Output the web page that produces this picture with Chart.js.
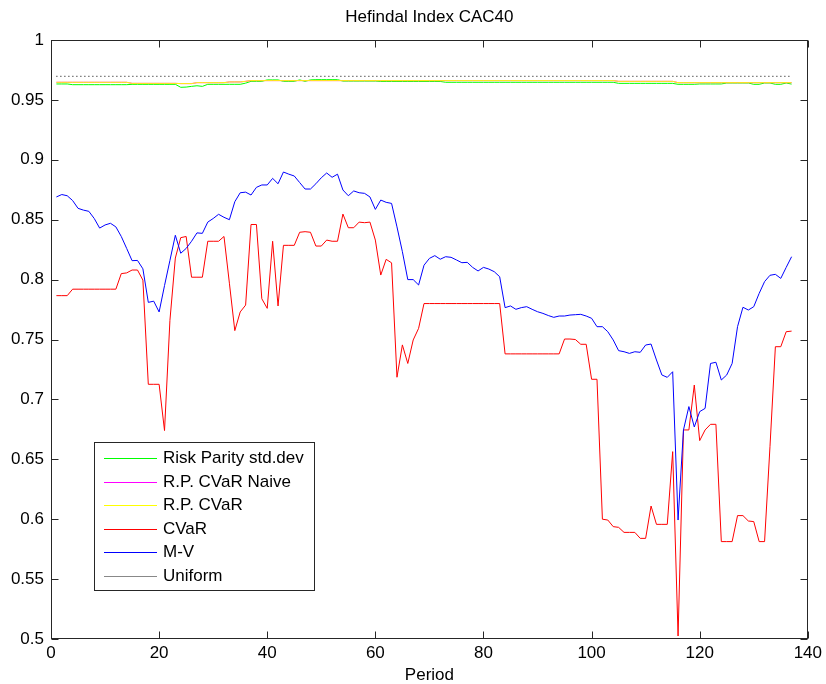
<!DOCTYPE html>
<html>
<head>
<meta charset="utf-8">
<script src="https://cdn.jsdelivr.net/npm/chart.js@4/dist/chart.umd.min.js"></script>
<style>
  html, body { margin: 0; padding: 0; background: #ffffff; }
  #wrap { width: 826px; height: 684px; }
</style>
</head>
<body>
<div id="wrap"><canvas id="chart" width="826" height="684"></canvas></div>
<script>
// Herfindahl concentration of portfolio weights, CAC40, per rebalancing period
const periods = Array.from({ length: 137 }, (_, i) => i + 1);

const riskParityStd = [
  0.9633, 0.9633, 0.9633,
  0.9627, 0.9627, 0.9627, 0.9627, 0.9627, 0.9627, 0.9627, 0.9627, 0.9627, 0.9627, 0.9627,
  0.9630, 0.9630, 0.9630, 0.9630, 0.9630, 0.9630, 0.9630, 0.9630, 0.9630,
  0.9605, 0.9607, 0.9613, 0.9618, 0.9613,
  0.9630, 0.9630, 0.9630, 0.9630, 0.9630, 0.9630, 0.9630,
  0.9640, 0.9655, 0.9655, 0.9655, 0.9667, 0.9667, 0.9667, 0.9655, 0.9655, 0.9655,
  0.9667, 0.9655, 0.9667, 0.9669, 0.9669, 0.9669, 0.9669, 0.9669,
  0.9657, 0.9657, 0.9657, 0.9657, 0.9657, 0.9657, 0.9657,
  0.9654, 0.9654, 0.9654, 0.9654, 0.9654, 0.9654, 0.9654, 0.9654, 0.9654, 0.9654, 0.9654, 0.9654,
  0.9647, 0.9647, 0.9647, 0.9647, 0.9647, 0.9647, 0.9647, 0.9647, 0.9647, 0.9647, 0.9647, 0.9647,
  0.9647, 0.9647, 0.9647, 0.9647, 0.9647, 0.9647, 0.9647, 0.9647, 0.9647, 0.9647, 0.9647, 0.9647,
  0.9647, 0.9647, 0.9647, 0.9647, 0.9647, 0.9647, 0.9647, 0.9647,
  0.9638, 0.9638, 0.9638, 0.9638, 0.9638, 0.9638, 0.9638, 0.9638, 0.9638, 0.9638, 0.9638,
  0.9630, 0.9630, 0.9630, 0.9630,
  0.9633, 0.9633, 0.9633, 0.9633, 0.9633,
  0.9641, 0.9641, 0.9641, 0.9641, 0.9641,
  0.9630, 0.9630, 0.9641, 0.9641, 0.9630, 0.9630, 0.9641, 0.9632
];

const rpCvarNaive = [
  0.9647, 0.9647, 0.9647, 0.9647, 0.9647, 0.9647, 0.9647, 0.9647, 0.9647, 0.9647, 0.9647, 0.9647, 0.9647, 0.9647,
  0.9638, 0.9638, 0.9638, 0.9638, 0.9638, 0.9638, 0.9638, 0.9638, 0.9638,
  0.9636, 0.9636, 0.9636,
  0.9644, 0.9644, 0.9644, 0.9644, 0.9644, 0.9644,
  0.9650, 0.9650, 0.9650, 0.9655,
  0.9661, 0.9661, 0.9661, 0.9661, 0.9661, 0.9661, 0.9661, 0.9661, 0.9661, 0.9661, 0.9661, 0.9661,
  0.9661, 0.9661, 0.9661, 0.9661, 0.9661, 0.9661, 0.9661, 0.9661, 0.9661, 0.9661, 0.9661, 0.9661,
  0.9661, 0.9661, 0.9661, 0.9661, 0.9661, 0.9661, 0.9661, 0.9661, 0.9661, 0.9661, 0.9661, 0.9661,
  0.9661, 0.9661, 0.9661, 0.9661, 0.9661, 0.9661, 0.9661, 0.9661, 0.9661, 0.9661, 0.9661, 0.9661,
  0.9661, 0.9661, 0.9661, 0.9661, 0.9661, 0.9661, 0.9661, 0.9661, 0.9661, 0.9661, 0.9661, 0.9661,
  0.9661, 0.9661, 0.9661, 0.9661, 0.9661, 0.9661, 0.9661, 0.9661,
  0.9655, 0.9655, 0.9655, 0.9655, 0.9655, 0.9655, 0.9655, 0.9655, 0.9655, 0.9655, 0.9655,
  0.9644, 0.9644, 0.9644, 0.9644, 0.9644, 0.9644, 0.9644, 0.9644, 0.9644, 0.9644, 0.9644,
  0.9644, 0.9644, 0.9644, 0.9644, 0.9644, 0.9644, 0.9644, 0.9644, 0.9644, 0.9644, 0.9644
];

const rpCvar = [
  0.9647, 0.9647, 0.9647, 0.9647, 0.9647, 0.9647, 0.9647, 0.9647, 0.9647, 0.9647, 0.9647, 0.9647, 0.9647, 0.9647,
  0.9638, 0.9638, 0.9638, 0.9638, 0.9638, 0.9638, 0.9638, 0.9638, 0.9638,
  0.9636, 0.9636, 0.9636,
  0.9644, 0.9644, 0.9644, 0.9644, 0.9644, 0.9644,
  0.9650, 0.9650, 0.9650, 0.9655,
  0.9661, 0.9661, 0.9661, 0.9661, 0.9661, 0.9661, 0.9661, 0.9661, 0.9661, 0.9661, 0.9661, 0.9661,
  0.9661, 0.9661, 0.9661, 0.9661, 0.9661, 0.9661, 0.9661, 0.9661, 0.9661, 0.9661, 0.9661, 0.9661,
  0.9661, 0.9661, 0.9661, 0.9661, 0.9661, 0.9661, 0.9661, 0.9661, 0.9661, 0.9661, 0.9661, 0.9661,
  0.9661, 0.9661, 0.9661, 0.9661, 0.9661, 0.9661, 0.9661, 0.9661, 0.9661, 0.9661, 0.9661, 0.9661,
  0.9661, 0.9661, 0.9661, 0.9661, 0.9661, 0.9661, 0.9661, 0.9661, 0.9661, 0.9661, 0.9661, 0.9661,
  0.9661, 0.9661, 0.9661, 0.9661, 0.9661, 0.9661, 0.9661, 0.9661,
  0.9655, 0.9655, 0.9655, 0.9655, 0.9655, 0.9655, 0.9655, 0.9655, 0.9655, 0.9655, 0.9655,
  0.9644, 0.9644, 0.9644, 0.9644, 0.9644, 0.9644, 0.9644, 0.9644, 0.9644, 0.9644, 0.9644,
  0.9644, 0.9644, 0.9644, 0.9644, 0.9644, 0.9644, 0.9644, 0.9644, 0.9644, 0.9644, 0.9644
];

const cvar = [
  0.7866, 0.7866, 0.7866, 0.792, 0.792, 0.792, 0.792, 0.792, 0.792, 0.792,
  0.792, 0.792, 0.805, 0.8056, 0.808, 0.808, 0.7996, 0.7126, 0.7126, 0.7126,
  0.674, 0.766, 0.818, 0.835, 0.836, 0.802, 0.802, 0.802, 0.832, 0.832,
  0.832, 0.836, 0.797, 0.7574, 0.773, 0.7787, 0.846, 0.846, 0.784, 0.776,
  0.832, 0.778, 0.8286, 0.8286, 0.8286, 0.8395, 0.840, 0.8395, 0.828, 0.828,
  0.833, 0.832, 0.832, 0.8547, 0.8433, 0.8433, 0.848, 0.8475, 0.848, 0.833,
  0.8038, 0.8169, 0.814, 0.7185, 0.7455, 0.730, 0.7496, 0.7593, 0.780, 0.780,
  0.780, 0.780, 0.780, 0.780, 0.780, 0.780, 0.780, 0.780, 0.780, 0.780,
  0.780, 0.780, 0.780, 0.738, 0.738, 0.738, 0.738, 0.738, 0.738, 0.738,
  0.738, 0.738, 0.738, 0.738, 0.7504, 0.7504, 0.750, 0.746, 0.746, 0.7168,
  0.7168, 0.600, 0.5993, 0.5938, 0.5932, 0.589, 0.589, 0.589, 0.584, 0.584,
  0.611, 0.5957, 0.5957, 0.5957, 0.6564, 0.5025, 0.6745, 0.6745, 0.712, 0.6656,
  0.6745, 0.6792, 0.6792, 0.5813, 0.5813, 0.5813, 0.603, 0.603, 0.5985, 0.598,
  0.5813, 0.5813, 0.6605, 0.744, 0.744, 0.7565, 0.757
];

const meanVariance = [
  0.869, 0.871, 0.870, 0.866, 0.8595, 0.858, 0.857, 0.851, 0.843, 0.8456,
  0.847, 0.844, 0.836, 0.826, 0.8158, 0.816, 0.809, 0.781, 0.782, 0.773,
  0.795, 0.816, 0.837, 0.822, 0.826, 0.832, 0.839, 0.8386, 0.848, 0.851,
  0.8545, 0.852, 0.850, 0.865, 0.8725, 0.873, 0.8706, 0.877, 0.879, 0.879,
  0.8845, 0.880, 0.8898, 0.888, 0.8865, 0.881, 0.8756, 0.8756, 0.880, 0.885,
  0.889, 0.8854, 0.888, 0.8748, 0.870, 0.874, 0.8725, 0.872, 0.869, 0.8586,
  0.8664, 0.8645, 0.8636, 0.844, 0.8233, 0.800, 0.800, 0.7955, 0.812, 0.8177,
  0.820, 0.817, 0.8191, 0.8186, 0.8164, 0.8141, 0.8144, 0.8102, 0.8072, 0.8102,
  0.8088, 0.8066, 0.8024, 0.7766, 0.778, 0.7752, 0.7766, 0.7774, 0.7752, 0.7732,
  0.7718, 0.770, 0.7685, 0.7696, 0.7696, 0.7704, 0.7707, 0.771, 0.7696, 0.7677,
  0.7607, 0.7607, 0.7565, 0.7496, 0.7407, 0.7398, 0.7384, 0.7398, 0.7393, 0.7454,
  0.7462, 0.7329, 0.7204, 0.7184, 0.7231, 0.5993, 0.6745, 0.694, 0.677, 0.6898,
  0.6925, 0.730, 0.731, 0.7162, 0.7204, 0.730, 0.7607, 0.7769, 0.7746, 0.7774,
  0.7885, 0.7983, 0.8036, 0.8044, 0.801, 0.8102, 0.8191
];

// equal-weight reference level, drawn across the full period range
const uniformPeriods = [1, 137];
const uniformLevel = [0.9697, 0.9697];

const xTicks = [0, 20, 40, 60, 80, 100, 120, 140];
const xTickLabels = ['0', '20', '40', '60', '80', '100', '120', '140'];
const yTicks = [0.5, 0.55, 0.6, 0.65, 0.7, 0.75, 0.8, 0.85, 0.9, 0.95, 1];
const yTickLabels = ['0.5', '0.55', '0.6', '0.65', '0.7', '0.75', '0.8', '0.85', '0.9', '0.95', '1'];

const FONT = '"Liberation Sans", Arial, Helvetica, sans-serif';
const FONT_SIZE = 17;
const AXIS_COLOR = '#262626';

const points = (xs, ys) => xs.map((x, i) => ({ x: x, y: ys[i] }));

const series = [
  { label: 'Risk Parity std.dev', values: riskParityStd, color: '#00ff00', order: 6 },
  { label: 'R.P. CVaR Naive', values: rpCvarNaive, color: '#ff00ff', order: 5 },
  { label: 'R.P. CVaR', values: rpCvar, color: '#ffff00', order: 4 },
  { label: 'CVaR', values: cvar, color: '#ff0000', order: 3 },
  { label: 'M-V', values: meanVariance, color: '#0000ff', order: 2 }
];

const datasets = series.map(s => ({
  label: s.label,
  data: points(periods, s.values),
  borderColor: s.color,
  backgroundColor: s.color,
  borderWidth: 1,
  pointRadius: 0,
  fill: false,
  tension: 0,
  order: s.order
}));
datasets.push({
  label: 'Uniform',
  data: points(uniformPeriods, uniformLevel),
  borderColor: '#000000',
  backgroundColor: '#000000',
  borderWidth: 1,
  borderDash: [1, 3],
  pointRadius: 0,
  fill: false,
  tension: 0,
  order: 1
});

// Box frame with inward tick marks on all four sides, title, axis label and legend
const framePlugin = {
  id: 'matlabFrame',
  afterDraw(chart) {
    const ctx = chart.ctx;
    const a = chart.chartArea;
    const xs = chart.scales.x;
    const ys = chart.scales.y;
    const tl = 7;
    ctx.save();
    ctx.strokeStyle = AXIS_COLOR;
    ctx.lineWidth = 1;
    const L = Math.round(a.left) + 0.5, R = Math.round(a.right) - 0.5;
    const T = Math.round(a.top) + 0.5, B = Math.round(a.bottom) - 0.5;
    ctx.strokeRect(L, T, R - L, B - T);
    ctx.beginPath();
    xTicks.forEach(v => {
      const px = Math.round(xs.getPixelForValue(v)) + 0.5;
      ctx.moveTo(px, B); ctx.lineTo(px, B - tl);
      ctx.moveTo(px, T); ctx.lineTo(px, T + tl);
    });
    yTicks.forEach(v => {
      const py = Math.round(ys.getPixelForValue(v)) + 0.5;
      ctx.moveTo(L, py); ctx.lineTo(L + tl, py);
      ctx.moveTo(R, py); ctx.lineTo(R - tl, py);
    });
    ctx.stroke();

    // title and x-axis label
    ctx.fillStyle = '#000000';
    ctx.textAlign = 'center';
    ctx.textBaseline = 'middle';
    ctx.font = FONT_SIZE + 'px ' + FONT;
    ctx.fillText('Hefindal Index CAC40', (a.left + a.right) / 2, 17);
    ctx.fillText('Period', (a.left + a.right) / 2, 675);

    // legend
    ctx.font = FONT_SIZE + 'px ' + FONT;
    const entries = chart.data.datasets;
    let maxW = 0;
    entries.forEach(d => { maxW = Math.max(maxW, ctx.measureText(d.label).width); });
    const boxL = 94.5, boxT = 442.5, boxB = 590.5;
    const lineX0 = 104, lineX1 = 157, textX = 163;
    const boxR = Math.round(textX + maxW + 10) + 0.5;
    ctx.fillStyle = '#ffffff';
    ctx.fillRect(boxL, boxT, boxR - boxL, boxB - boxT);
    ctx.strokeStyle = AXIS_COLOR;
    ctx.strokeRect(boxL, boxT, boxR - boxL, boxB - boxT);
    entries.forEach((d, i) => {
      const y = Math.round(458 + i * 23.6) + 0.5;
      ctx.strokeStyle = d.label === 'Uniform' ? '#888888' : d.borderColor;
      ctx.lineWidth = 1;
      ctx.beginPath();
      ctx.moveTo(lineX0, y); ctx.lineTo(lineX1, y);
      ctx.stroke();
      ctx.fillStyle = '#000000';
      ctx.textAlign = 'left';
      ctx.textBaseline = 'middle';
      ctx.fillText(d.label, textX, y);
    });
    ctx.restore();
  }
};

new Chart(document.getElementById('chart'), {
  type: 'line',
  data: { datasets: datasets },
  options: {
    responsive: false,
    animation: false,
    devicePixelRatio: 1,
    layout: { padding: { top: 40, right: 16, left: 0, bottom: 0 } },
    plugins: {
      legend: { display: false },
      tooltip: { enabled: false },
      title: { display: false }
    },
    scales: {
      x: {
        type: 'linear',
        min: 0,
        max: 140,
        grid: { display: false, drawTicks: false },
        border: { display: false },
        afterBuildTicks: s => { s.ticks = xTicks.map(v => ({ value: v })); },
        afterFit: s => { s.height = 45; },
        ticks: {
          padding: 4,
          color: '#000000',
          font: { family: FONT, size: FONT_SIZE },
          maxRotation: 0,
          autoSkip: false,
          callback: (v, i) => xTickLabels[i]
        }
      },
      y: {
        type: 'linear',
        min: 0.5,
        max: 1,
        grid: { display: false, drawTicks: false },
        border: { display: false },
        afterBuildTicks: s => { s.ticks = yTicks.map(v => ({ value: v })); },
        afterFit: s => { s.width = 51; },
        ticks: {
          padding: 7,
          color: '#000000',
          font: { family: FONT, size: FONT_SIZE },
          autoSkip: false,
          callback: (v, i) => yTickLabels[i]
        }
      }
    }
  },
  plugins: [framePlugin]
});
</script>
</body>
</html>
